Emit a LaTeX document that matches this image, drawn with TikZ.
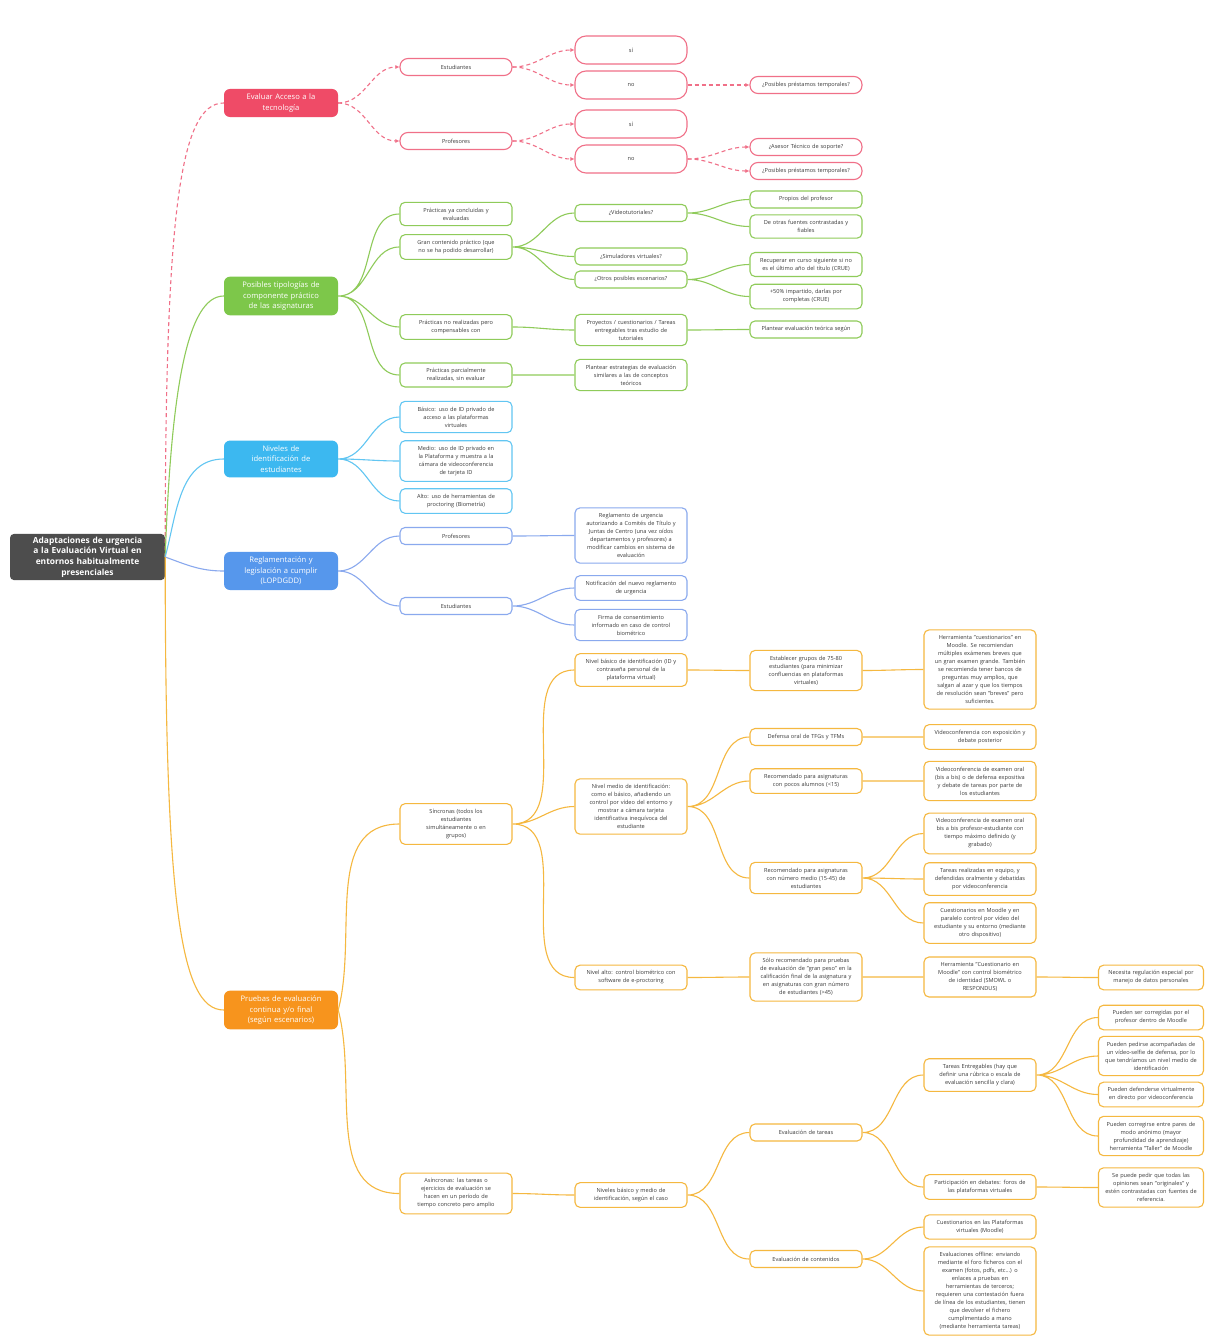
\documentclass[tikz,border=0pt]{standalone}
\usepackage{fontspec}
\setmainfont{Open Sans}
\usetikzlibrary{arrows.meta}
\definecolor{rootgray}{HTML}{4D4D4D}
\definecolor{leaftext}{HTML}{3A3A3A}
\definecolor{accred}{HTML}{EF4B67}
\definecolor{redline}{HTML}{F07088}
\definecolor{grnfill}{HTML}{7DC74A}
\definecolor{grnline}{HTML}{8FCB5A}
\definecolor{cyanfill}{HTML}{3CB8F0}
\definecolor{cyanline}{HTML}{62C6F2}
\definecolor{bluefill}{HTML}{5697EC}
\definecolor{blueline}{HTML}{8AA9EE}
\definecolor{orfill}{HTML}{F7941D}
\definecolor{orline}{HTML}{F5B840}
\tikzset{
  rootbox/.style={
    rounded corners=4pt,fill=rootgray,text=white,
    font=\bfseries\fontsize{8.4}{10.6}\selectfont,
    text width=149pt,inner xsep=3pt,inner ysep=3pt,align=center
  },
  mainbox/.style={
    rounded corners=6pt,text=white,
    font=\fontsize{7.6}{10.5}\selectfont,
    text width=106pt,inner xsep=4pt,inner ysep=5pt,align=center
  },
  leaf/.style={
    rounded corners=5pt,fill=white,line width=1.1pt,text=leaftext,
    font=\fontsize{5.6}{8}\selectfont,minimum height=17pt,
    text width=104pt,inner xsep=4pt,inner ysep=5.5pt,align=center
  },
  redleaf/.style={leaf,draw=redline,rounded corners=8pt},
  yesno/.style={redleaf,minimum height=28pt,rounded corners=11pt},
  grnleaf/.style={leaf,draw=grnline},
  cyanleaf/.style={leaf,draw=cyanline},
  blueleaf/.style={leaf,draw=blueline},
  orleaf/.style={leaf,draw=orline},
  edgeleaf/.style={orleaf,text width=97pt},
  link/.style={line width=1.1pt,out=0,in=180},
  redlink/.style={link,draw=redline,dash pattern=on 4pt off 3pt,-{Latex[length=4pt,width=4pt]}},
  grnlink/.style={link,draw=grnline},
  cyanlink/.style={link,draw=cyanline},
  bluelink/.style={link,draw=blueline},
  orlink/.style={link,draw=orline}
}

\begin{document}
\begin{tikzpicture}[x=1pt,y=1pt]
\useasboundingbox (0,0) rectangle (1205,-1338);
\fill[white] (0,0) rectangle (1205,-1338);

% centre
\node[rootbox] (root) at (87.5,-557) {Adaptaciones de urgencia\\a la Evaluación Virtual en\\entornos habitualmente\\presenciales};

% ramas principales
\node[mainbox,fill=accred] (acc) at (281,-103) {Evaluar Acceso a la\\tecnología};
\node[mainbox,fill=grnfill] (grn) at (281,-296) {Posibles tipologías de\\componente práctico\\de las asignaturas};
\node[mainbox,fill=cyanfill] (niv) at (281,-459) {Niveles de\\identificación de\\estudiantes};
\node[mainbox,fill=bluefill] (reg) at (281,-571) {Reglamentación y\\legislación a cumplir\\(LOPDGDD)};
\node[mainbox,fill=orfill] (pru) at (281,-1010) {Pruebas de evaluación\\continua y/o final\\(según escenarios)};

% acceso a la tecnologia
\node[redleaf] (est) at (456,-67) {Estudiantes};
\node[redleaf] (prof) at (456,-141) {Profesores};
\node[yesno] (estsi) at (631,-50) {sí};
\node[yesno] (estno) at (631,-85) {no};
\node[redleaf] (estpres) at (806,-85) {¿Posibles préstamos temporales?};
\node[yesno] (profsi) at (631,-124) {sí};
\node[yesno] (profno) at (631,-159) {no};
\node[redleaf] (profases) at (806,-147) {¿Asesor Técnico de soporte?};
\node[redleaf] (profpres) at (806,-171) {¿Posibles préstamos temporales?};

% componente practico
\node[grnleaf] (pya) at (456,-214) {Prácticas ya concluidas y\\evaluadas};
\node[grnleaf] (gran) at (456,-247) {Gran contenido práctico (que\\no se ha podido desarrollar)};
\node[grnleaf] (pno) at (456,-327) {Prácticas no realizadas pero\\compensables con};
\node[grnleaf] (pparc) at (456,-375) {Prácticas parcialmente\\realizadas, sin evaluar};
\node[grnleaf] (vid) at (631,-213) {¿Videotutoriales?};
\node[grnleaf] (sim) at (631,-256.5) {¿Simuladores virtuales?};
\node[grnleaf] (otros) at (631,-279.5) {¿Otros posibles escenarios?};
\node[grnleaf] (proy) at (631,-330) {Proyectos / cuestionarios / Tareas\\entregables tras estudio de\\tutoriales};
\node[grnleaf] (estrat) at (631,-375) {Plantear estrategias de evaluación\\similares a las de conceptos\\teóricos};
\node[grnleaf] (propios) at (806,-199.5) {Propios del profesor};
\node[grnleaf] (otras) at (806,-226.5) {De otras fuentes contrastadas y\\fiables};
\node[grnleaf] (recup) at (806,-264.5) {Recuperar en curso siguiente si no\\es el último año del título (CRUE)};
\node[grnleaf] (mas) at (806,-296.5) {+50\% impartido, darlas por\\completas (CRUE)};
\node[grnleaf] (teor) at (806,-329.5) {Plantear evaluación teórica según};

% identificacion
\node[cyanleaf] (bas) at (456,-417) {Básico: uso de ID privado de\\acceso a las plataformas\\virtuales};
\node[cyanleaf] (med) at (456,-461) {Medio: uso de ID privado en\\la Plataforma y muestra a la\\cámara de videoconferencia\\de tarjeta ID};
\node[cyanleaf] (alto) at (456,-501) {Alto: uso de herramientas de\\proctoring (Biometría)};

% reglamentacion
\node[blueleaf] (rprof) at (456,-536) {Profesores};
\node[blueleaf] (rest) at (456,-606) {Estudiantes};
\node[blueleaf] (rurg) at (631,-535.5) {Reglamento de urgencia\\autorizando a Comités de Título y\\Juntas de Centro (una vez oídos\\departamentos y profesores) a\\modificar cambios en sistema de\\evaluación};
\node[blueleaf] (notif) at (631,-588) {Notificación del nuevo reglamento\\de urgencia};
\node[blueleaf] (firma) at (631,-625) {Firma de consentimiento\\informado en caso de control\\biométrico};

% pruebas: sincronas
\node[orleaf] (sinc) at (456,-824) {Síncronas (todos los\\estudiantes\\simultáneamente o en\\grupos)};
\node[orleaf] (nbas) at (631,-670) {Nivel básico de identificación (ID y\\contraseña personal de la\\plataforma virtual)};
\node[orleaf] (nmed) at (631,-806.5) {Nivel medio de identificación:\\como el básico, añadiendo un\\control por vídeo del entorno y\\mostrar a cámara tarjeta\\identificativa inequívoca del\\estudiante};
\node[orleaf] (nalto) at (631,-977.5) {Nivel alto: control biométrico con\\software de e-proctoring};
\node[orleaf] (grupos) at (806,-670.5) {Establecer grupos de 75-80\\estudiantes (para minimizar\\confluencias en plataformas\\virtuales)};
\node[orleaf] (defensa) at (806,-737) {Defensa oral de TFGs y TFMs};
\node[orleaf] (pocos) at (806,-781) {Recomendado para asignaturas\\con pocos alumnos (<15)};
\node[orleaf] (nmedio) at (806,-878) {Recomendado para asignaturas\\con número medio (15-45) de\\estudiantes};
\node[orleaf] (solo) at (806,-977) {Sólo recomendado para pruebas\\de evaluación de "gran peso" en la\\calificación final de la asignatura y\\en asignaturas con gran número\\de estudiantes (>45)};
\node[orleaf] (herr) at (980,-669.5) {Herramienta "cuestionarios" en\\Moodle. Se recomiendan\\múltiples exámenes breves que\\un gran examen grande. También\\se recomienda tener bancos de\\preguntas muy amplios, que\\salgan al azar y que los tiempos\\de resolución sean "breves" pero\\suficientes.};
\node[orleaf] (vcexp) at (980,-737) {Videoconferencia con exposición y\\debate posterior};
\node[orleaf] (vcoral) at (980,-781) {Videoconferencia de examen oral\\(bis a bis) o de defensa expositiva\\y debate de tareas por parte de\\los estudiantes};
\node[orleaf] (vcbis) at (980,-833.5) {Videoconferencia de examen oral\\bis a bis profesor-estudiante con\\tiempo máximo definido (y\\grabado)};
\node[orleaf] (equipo) at (980,-879) {Tareas realizadas en equipo, y\\defendidas oralmente y debatidas\\por videoconferencia};
\node[orleaf] (cmood) at (980,-923) {Cuestionarios en Moodle y en\\paralelo control por vídeo del\\estudiante y su entorno (mediante\\otro dispositivo)};
\node[orleaf] (herrc) at (980,-977) {Herramienta "Cuestionario en\\Moodle" con control biométrico\\de identidad (SMOWL o\\RESPONDUS)};
\node[edgeleaf] (necesita) at (1151,-977.5) {Necesita regulación especial por\\manejo de datos personales};

% pruebas: asincronas
\node[orleaf] (asinc) at (456,-1193.5) {Asíncronas: las tareas o\\ejercicios de evaluación se\\hacen en un período de\\tiempo concreto pero amplio};
\node[orleaf] (nivbm) at (631,-1195) {Niveles básico y medio de\\identificación, según el caso};
\node[orleaf] (evtar) at (806,-1132.5) {Evaluación de tareas};
\node[orleaf] (evcont) at (806,-1259) {Evaluación de contenidos};
\node[orleaf] (entreg) at (980,-1075) {Tareas Entregables (hay que\\definir una rúbrica o escala de\\evaluación sencilla y clara)};
\node[orleaf] (debate) at (980,-1187) {Participación en debates: foros de\\las plataformas virtuales};
\node[orleaf] (cplat) at (980,-1227) {Cuestionarios en las Plataformas\\virtuales (Moodle)};
\node[orleaf] (offline) at (980,-1291) {Evaluaciones offline: enviando\\mediante el foro ficheros con el\\examen (fotos, pdfs, etc...) o\\enlaces a pruebas en\\herramientas de terceros;\\requieren una contestación fuera\\de línea de los estudiantes, tienen\\que devolver el fichero\\cumplimentado a mano\\(mediante herramienta tareas)};
\node[edgeleaf] (corr) at (1151,-1017.5) {Pueden ser corregidas por el\\profesor dentro de Moodle};
\node[edgeleaf] (selfie) at (1151,-1056) {Pueden pedirse acompañadas de\\un vídeo-selfie de defensa, por lo\\que tendríamos un nivel medio de\\identificación};
\node[edgeleaf] (directo) at (1151,-1094.5) {Pueden defenderse virtualmente\\en directo por videoconferencia};
\node[edgeleaf] (pares) at (1151,-1136) {Pueden corregirse entre pares de\\modo anónimo (mayor\\profundidad de aprendizaje)\\herramienta "Taller" de Moodle};
\node[edgeleaf] (origin) at (1151,-1187.5) {Se puede pedir que todas las\\opiniones sean "originales" y\\estén contrastadas con fuentes de\\referencia.};

% enlaces desde el centro
\draw[line width=1.1pt,draw=redline,dash pattern=on 4pt off 3pt] (root.east) to[out=90,in=180,out looseness=1.9,in looseness=0.25] (acc.west);
\draw[line width=1.1pt,draw=grnline] (root.east) to[out=88,in=180,out looseness=1.6,in looseness=0.35] (grn.west);
\draw[line width=1.1pt,draw=cyanline] (root.east) to[out=75,in=180] (niv.west);
\draw[line width=1.1pt,draw=blueline] (root.east) to[out=-20,in=180] (reg.west);
\draw[line width=1.1pt,draw=orline] (root.east) to[out=-90,in=180,out looseness=1.9,in looseness=0.25] (pru.west);

% acceso
\draw[redlink] (acc.east) to (est.west);
\draw[redlink] (acc.east) to (prof.west);
\draw[redlink] (est.east) to (estsi.west);
\draw[redlink] (est.east) to (estno.west);
\draw[redlink] (estno.east) to (estpres.west);
\draw[redlink] (prof.east) to (profsi.west);
\draw[redlink] (prof.east) to (profno.west);
\draw[redlink] (profno.east) to (profases.west);
\draw[redlink] (profno.east) to (profpres.west);

% practicas
\draw[grnlink] (grn.east) to (pya.west) (grn.east) to (gran.west)
  (grn.east) to (pno.west) (grn.east) to (pparc.west)
  (gran.east) to (vid.west) (gran.east) to (sim.west) (gran.east) to (otros.west)
  (vid.east) to (propios.west) (vid.east) to (otras.west)
  (otros.east) to (recup.west) (otros.east) to (mas.west)
  (pno.east) to (proy.west) (proy.east) to (teor.west)
  (pparc.east) to (estrat.west);

% identificacion y reglamento
\draw[cyanlink] (niv.east) to (bas.west) (niv.east) to (med.west) (niv.east) to (alto.west);
\draw[bluelink] (reg.east) to (rprof.west) (reg.east) to (rest.west)
  (rprof.east) to (rurg.west) (rest.east) to (notif.west) (rest.east) to (firma.west);

% pruebas
\draw[orlink] (pru.east) to[out=75] (sinc.west);
\draw[orlink] (pru.east) to[out=-75] (asinc.west);
\draw[orlink] (sinc.east) to (nbas.west) (sinc.east) to (nmed.west) (sinc.east) to (nalto.west)
  (nbas.east) to (grupos.west) (grupos.east) to (herr.west)
  (nmed.east) to (defensa.west) (nmed.east) to (pocos.west) (nmed.east) to (nmedio.west)
  (defensa.east) to (vcexp.west) (pocos.east) to (vcoral.west)
  (nmedio.east) to (vcbis.west) (nmedio.east) to (equipo.west) (nmedio.east) to (cmood.west)
  (nalto.east) to (solo.west) (solo.east) to (herrc.west) (herrc.east) to (necesita.west);
\draw[orlink] (asinc.east) to (nivbm.west)
  (nivbm.east) to (evtar.west) (nivbm.east) to (evcont.west)
  (evtar.east) to (entreg.west) (evtar.east) to (debate.west)
  (entreg.east) to (corr.west) (entreg.east) to (selfie.west)
  (entreg.east) to (directo.west) (entreg.east) to (pares.west)
  (debate.east) to (origin.west)
  (evcont.east) to (cplat.west) (evcont.east) to (offline.west);
\end{tikzpicture}
\end{document}
